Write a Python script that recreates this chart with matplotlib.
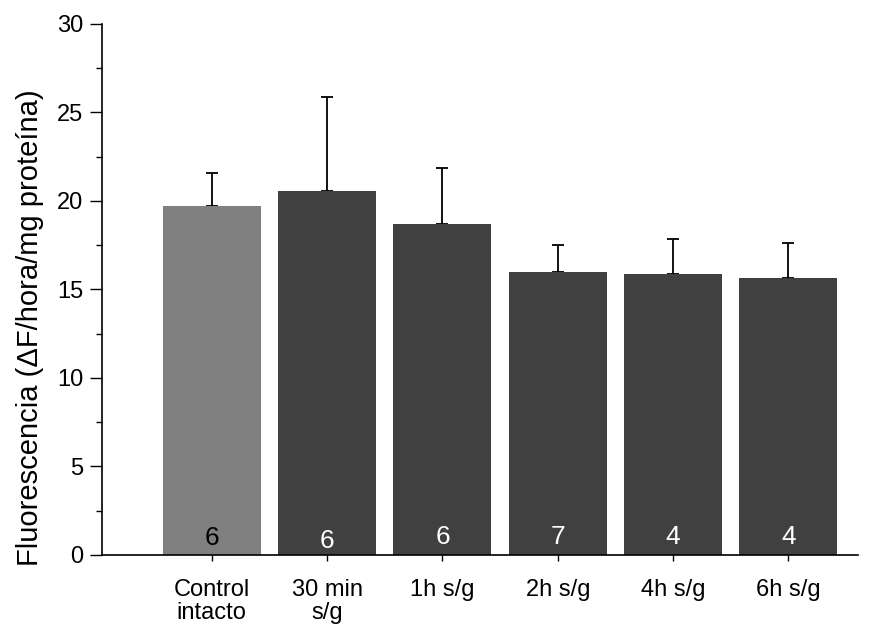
import matplotlib
matplotlib.use("Agg")
import matplotlib.pyplot as plt
from matplotlib.ticker import MultipleLocator

plt.rcParams["font.family"] = ["Liberation Sans", "DejaVu Sans"]

groups = ["Control\nintacto", "30 min\ns/g", "1h s/g", "2h s/g", "4h s/g", "6h s/g"]
means = [19.7, 20.55, 18.7, 16.0, 15.9, 15.65]
sem = [1.88, 5.3, 3.18, 1.53, 1.95, 1.98]
n_values = [6, 6, 6, 7, 4, 4]
bar_colors = ["#808080", "#404040", "#404040", "#404040", "#404040", "#404040"]
n_colors = ["black", "white", "white", "white", "white", "white"]
n_baseline = [0.55, 0.4, 0.6, 0.6, 0.6, 0.6]

fig = plt.figure(figsize=(8.86, 6.24), dpi=100)
ax = fig.add_axes([0.115, 0.1106, 0.853, 0.851])

x = list(range(len(groups)))
ax.bar(x, means, width=0.85, color=bar_colors, zorder=2)
ax.errorbar(x, means, yerr=[[0] * len(sem), sem], fmt="none", ecolor="black",
            elinewidth=1.3, capsize=4, capthick=1.3, zorder=1)

for xi, n, c, b in zip(x, n_values, n_colors, n_baseline):
    ax.text(xi, b, str(n), ha="center", va="baseline", fontsize=19, color=c)

ax.set_xlim(-0.953, 5.6)
ax.set_ylim(0, 30)
ax.yaxis.set_major_locator(MultipleLocator(5))
ax.yaxis.set_minor_locator(MultipleLocator(2.5))
ax.tick_params(axis="y", which="major", length=8.6, width=1, labelsize=17, pad=5)
ax.tick_params(axis="y", which="minor", length=4.3, width=1)
ax.tick_params(axis="x", length=4, width=1, labelsize=17, pad=13)
ax.set_xticks(x)
ax.set_xticklabels(groups, linespacing=1.1)

ax.spines["top"].set_visible(False)
ax.spines["right"].set_visible(False)
ax.spines["left"].set_linewidth(1.2)
ax.spines["bottom"].set_linewidth(1.2)

ax.set_ylabel("Fluorescencia (ΔF/hora/mg proteína)", fontsize=21)
ax.yaxis.set_label_coords(-0.076, 0.4275)

fig.savefig("out.png", dpi=100)
